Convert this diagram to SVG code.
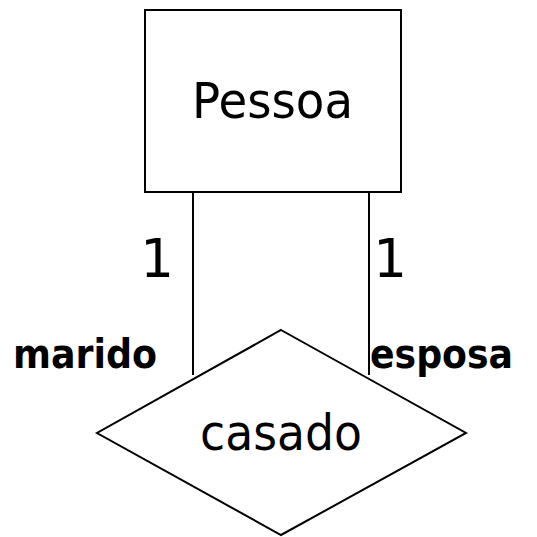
<svg xmlns="http://www.w3.org/2000/svg" width="537" height="537" viewBox="0 0 537 537">
<style>
.shape{fill:#fff;stroke:#000;stroke-width:2}
.conn{stroke:#000;stroke-width:2;fill:none}
.t{font-family:"DejaVu Sans","Noto Sans",sans-serif;fill:#000}
.big{font-size:50px}
.one{font-size:53px;text-anchor:middle}
.lbl{font-size:40px;font-weight:bold}
</style>
<rect width="537" height="537" fill="#fff"/>
<g id="connectors">
<line class="conn" x1="193" y1="192" x2="193" y2="375"/>
<line class="conn" x1="369" y1="192" x2="369" y2="375"/>
</g>
<g id="Pessoa">
<rect class="shape" x="145" y="10" width="256" height="182"/>
<text class="t big" x="192" y="118" textLength="161" lengthAdjust="spacingAndGlyphs">Pessoa</text>
</g>
<g id="casado">
<polygon class="shape" points="281,330 466,433 281,535 97,433"/>
<text class="t big" x="200" y="450" textLength="162" lengthAdjust="spacingAndGlyphs">casado</text>
</g>
<g id="labels">
<text class="t one" x="157" y="277">1</text>
<text class="t one" x="390" y="277">1</text>
<text class="t lbl" x="13" y="368" textLength="144" lengthAdjust="spacingAndGlyphs">marido</text>
<text class="t lbl" x="370" y="368" textLength="143" lengthAdjust="spacingAndGlyphs">esposa</text>
</g>
</svg>
